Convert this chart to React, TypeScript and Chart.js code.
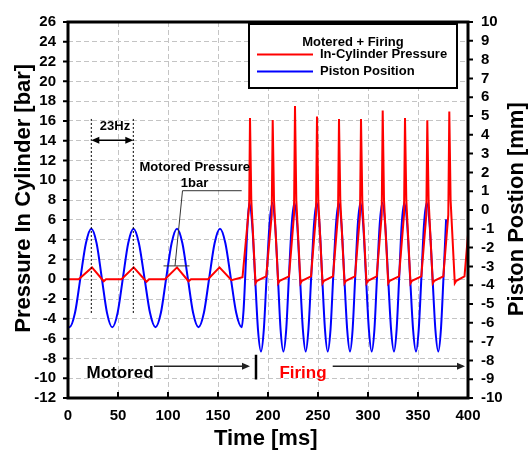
import React, { useEffect, useRef } from "react";
import { Chart, registerables } from "chart.js";

Chart.register(...registerables);

const FONT = '"Liberation Sans", Arial, Helvetica, sans-serif';

// In-cylinder pressure [bar] vs time [ms]
const pressureTime = [
  0, 10.7, 24, 35.7, 38, 53.5, 65.7, 78.5, 81, 97, 109, 120.5, 123, 140, 151.5, 163.5, 174.5,
  181.2, 182, 183.3, 187.5, 189,
  198.2, 203.7, 204.7, 206, 210.2, 211.7,
  221, 226, 227, 228.3, 232.5, 234,
  243, 248, 249, 250.3, 254.5, 256,
  265, 270, 271, 272.3, 276.5, 278,
  287, 292, 293, 294.3, 298.5, 300,
  308.7, 313.7, 314.7, 316, 320.2, 321.7,
  331, 336, 337, 338.3, 342.5, 344,
  353.3, 358.3, 359.3, 360.6, 364.8, 366.3,
  375.3, 380.3, 381.3, 382.6, 386.8, 388.3,
  396.5, 400,
];
const pressureBar = [
  0, 0, 1.2, -0.2, 0, 0, 1.2, -0.25, 0, 0, 1.2, -0.2, 0, 0, 1.2, -0.1, 0.2,
  7.5, 16.3, 8, -0.4, -0.15,
  0.3, 6.5, 16.1, 8, -0.4, -0.15,
  0.3, 6.5, 17.5, 8, -0.4, -0.15,
  0.3, 6.5, 16.45, 8, -0.4, -0.15,
  0.3, 6.5, 16.2, 8, -0.4, -0.15,
  0.3, 6.5, 16.2, 8, -0.4, -0.15,
  0.3, 6.5, 17.05, 8, -0.4, -0.15,
  0.3, 6.5, 16.3, 8, -0.4, -0.15,
  0.3, 6.5, 16.06, 8, -0.4, -0.15,
  0.3, 6.5, 16.95, 8, -0.4, -0.15,
  0.3, 4.5,
];

// Piston position [mm] vs time [ms]
const pistonTime = [
  0, 1.5, 7, 12.4, 17.9, 23.3, 28.6, 33.8, 39, 44.3, 49.6, 54.9, 60.2, 65.5, 70.9, 76.5, 82, 87.5,
  92.9, 98.2, 103.6, 109, 114.4, 119.8, 125.1, 130.5, 135.9, 141.2, 146.6, 152, 157.4, 162.8, 168.2, 173.7,
  175.6, 177.5, 179.4, 181.3,
  184.2, 187.1, 190.0, 193,
  195.8, 198.6, 201.5, 204.3,
  207.1, 209.9, 212.6, 215.4,
  218.2, 220.9, 223.7, 226.4,
  229.2, 232.0, 234.9, 237.7,
  240.4, 243.2, 246.0, 248.7,
  251.5, 254.2, 257.0, 259.7,
  262.5, 265.2, 268.0, 270.7,
  273.5, 276.3, 279.2, 282,
  284.6, 287.2, 289.8, 292.4,
  295.2, 298.0, 300.9, 303.7,
  306.4, 309.0, 311.7, 314.3,
  317.2, 320.1, 323.1, 326,
  328.6, 331.2, 333.7, 336.3,
  339.2, 342.1, 345.1, 348,
  350.7, 353.4, 356.0, 358.7,
  361.6, 364.5, 367.4, 370.3,
  372.9, 375.5, 378.1, 380.7,
  383.7, 386.7, 389.7, 392.7,
  395.2, 397.6, 400,
];
const pistonMm = [
  -6.2, -6.24, -5.47, -3.62, -1.77, -1.0, -1.77, -3.62, -5.47, -6.24, -5.47, -3.62, -1.77, -1.0, -1.77, -3.62, -5.47, -6.24,
  -5.47, -3.62, -1.77, -1.0, -1.77, -3.62, -5.47, -6.24, -5.47, -3.62, -1.77, -1.0, -1.77, -3.62, -5.47, -6.24,
  -5.3, -3.2, -0.9, 0.39,
  -0.77, -3.57, -6.37, -7.53,
  -6.37, -3.57, -0.77, 0.39,
  -0.77, -3.57, -6.37, -7.53,
  -6.37, -3.57, -0.77, 0.39,
  -0.77, -3.57, -6.37, -7.53,
  -6.37, -3.57, -0.77, 0.39,
  -0.77, -3.57, -6.37, -7.53,
  -6.37, -3.57, -0.77, 0.39,
  -0.77, -3.57, -6.37, -7.53,
  -6.37, -3.57, -0.77, 0.39,
  -0.77, -3.57, -6.37, -7.53,
  -6.37, -3.57, -0.77, 0.39,
  -0.77, -3.57, -6.37, -7.53,
  -6.37, -3.57, -0.77, 0.39,
  -0.77, -3.57, -6.37, -7.53,
  -6.37, -3.57, -0.77, 0.39,
  -0.77, -3.57, -6.37, -7.53,
  -6.37, -3.57, -0.5,
];

const legendTitle = "Motered + Firing";
const seriesNames = ["In-Cylinder Pressure", "Piston Position"];
const seriesColors = ["#ff0000", "#0000ff"];
const xTitle = "Time [ms]";
const yTitle = "Pressure In Cylinder [bar]";
const y1Title = "Piston Postion [mm]";

function arrowHead(ctx: CanvasRenderingContext2D, x: number, y: number, dir: number) {
  ctx.beginPath();
  ctx.moveTo(x, y);
  ctx.lineTo(x - dir * 8, y - 3.5);
  ctx.lineTo(x - dir * 8, y + 3.5);
  ctx.closePath();
  ctx.fill();
}

const overlay = {
  id: "overlay",
  afterDraw(chart: any) {
    const ctx: CanvasRenderingContext2D = chart.ctx;
    const { left, right, top, bottom } = chart.chartArea;
    const xs = chart.scales.x;
    const ys = chart.scales.y;
    const y1 = chart.scales.y1;
    const X = (v: number) => xs.getPixelForValue(v);
    const Y = (v: number) => ys.getPixelForValue(v);
    ctx.save();

    // tick marks
    ctx.strokeStyle = "#000";
    ctx.lineWidth = 2;
    ctx.setLineDash([]);
    ctx.beginPath();
    ys.ticks.forEach((t: any) => {
      const p = Y(t.value);
      ctx.moveTo(left - 5, p);
      ctx.lineTo(left, p);
    });
    y1.ticks.forEach((t: any) => {
      const p = y1.getPixelForValue(t.value);
      ctx.moveTo(right, p);
      ctx.lineTo(right + 5, p);
    });
    xs.ticks.forEach((t: any) => {
      const p = X(t.value);
      ctx.moveTo(p, bottom);
      ctx.lineTo(p, bottom - 6);
    });
    ctx.stroke();

    // frame
    ctx.lineWidth = 3;
    ctx.strokeRect(left, top, right - left, bottom - top);

    // axis titles
    ctx.fillStyle = "#000";
    ctx.font = `bold 22px ${FONT}`;
    ctx.textAlign = "center";
    ctx.textBaseline = "middle";
    ctx.fillText(xTitle, 265.7, 438.5);
    ctx.save();
    ctx.translate(24.2, 198.3);
    ctx.rotate(-Math.PI / 2);
    ctx.fillText(yTitle, 0, 0);
    ctx.restore();
    ctx.save();
    ctx.translate(516.8, 209.2);
    ctx.rotate(-Math.PI / 2);
    ctx.fillText(y1Title, 0, 0);
    ctx.restore();

    // 23Hz annotation
    ctx.strokeStyle = "#000";
    ctx.lineWidth = 1;
    ctx.setLineDash([2, 2]);
    ctx.beginPath();
    [23.3, 65.3].forEach((t) => {
      ctx.moveTo(X(t), Y(16.2));
      ctx.lineTo(X(t), Y(-3.5));
    });
    ctx.stroke();
    ctx.setLineDash([]);
    ctx.fillStyle = "#000";
    ctx.lineWidth = 1.5;
    ctx.beginPath();
    ctx.moveTo(X(23.3) + 4, Y(14.06));
    ctx.lineTo(X(65.3) - 4, Y(14.06));
    ctx.stroke();
    arrowHead(ctx, X(23.3), Y(14.06), -1);
    arrowHead(ctx, X(65.3), Y(14.06), 1);
    ctx.font = `bold 13px ${FONT}`;
    ctx.textAlign = "center";
    ctx.textBaseline = "middle";
    ctx.fillText("23Hz", X(47), Y(15.4));

    // Motored pressure annotation
    ctx.fillText("Motored Pressure", X(126.8), Y(11.26));
    ctx.fillText("1bar", X(126.5), Y(9.64));
    ctx.strokeStyle = "#333";
    ctx.lineWidth = 1;
    ctx.beginPath();
    ctx.moveTo(X(173.7), Y(8.95));
    ctx.lineTo(X(114.5), Y(8.95));
    ctx.lineTo(X(107), Y(1.35));
    ctx.moveTo(X(95.5), Y(1.35));
    ctx.lineTo(X(121.5), Y(1.35));
    ctx.stroke();

    // Motored / Firing bottom annotation
    ctx.font = `bold 17px ${FONT}`;
    ctx.fillStyle = "#000";
    ctx.fillText("Motored", X(52), Y(-9.46));
    ctx.fillStyle = "#ff0000";
    ctx.fillText("Firing", X(235), Y(-9.48));
    ctx.fillStyle = "#222";
    ctx.strokeStyle = "#222";
    ctx.lineWidth = 1.5;
    ctx.beginPath();
    ctx.moveTo(X(86), Y(-8.8));
    ctx.lineTo(X(180), Y(-8.8));
    ctx.moveTo(X(264.7), Y(-8.8));
    ctx.lineTo(X(395), Y(-8.8));
    ctx.stroke();
    arrowHead(ctx, X(182), Y(-8.8), 1);
    arrowHead(ctx, X(397), Y(-8.8), 1);
    ctx.strokeStyle = "#000";
    ctx.lineWidth = 2.5;
    ctx.beginPath();
    ctx.moveTo(X(188), Y(-7.63));
    ctx.lineTo(X(188), Y(-10.13));
    ctx.stroke();

    // legend box
    const bx = 249, by = 24, bw = 208, bh = 64;
    ctx.fillStyle = "#fff";
    ctx.fillRect(bx, by, bw, bh);
    ctx.strokeStyle = "#000";
    ctx.lineWidth = 2;
    ctx.strokeRect(bx, by, bw, bh);
    ctx.fillStyle = "#000";
    ctx.font = `bold 13px ${FONT}`;
    ctx.textAlign = "center";
    ctx.fillText(legendTitle, 353, 42);
    ctx.textAlign = "left";
    seriesNames.forEach((name, i) => {
      const yy = 54.5 + i * 17;
      ctx.strokeStyle = seriesColors[i];
      ctx.lineWidth = 2;
      ctx.beginPath();
      ctx.moveTo(257, yy);
      ctx.lineTo(313, yy);
      ctx.stroke();
      ctx.fillStyle = "#000";
      ctx.fillText(name, 320, yy);
    });

    ctx.restore();
  },
};

export default function App() {
  const ref = useRef<HTMLCanvasElement>(null);
  useEffect(() => {
    const tickFont = { family: FONT, size: 15, weight: "bold" as const };
    const gridColor = "#c4c4c4";
    const chart = new Chart(ref.current!, {
      type: "line",
      data: {
        datasets: [
          {
            label: seriesNames[0],
            data: pressureTime.map((t, i) => ({ x: t, y: pressureBar[i] })),
            borderColor: seriesColors[0],
            borderWidth: 2,
            pointRadius: 0,
            tension: 0,
            yAxisID: "y",
          },
          {
            label: seriesNames[1],
            data: pistonTime.map((t, i) => ({ x: t, y: pistonMm[i] })),
            borderColor: seriesColors[1],
            borderWidth: 2,
            pointRadius: 0,
            cubicInterpolationMode: "monotone",
            yAxisID: "y1",
          },
        ],
      },
      options: {
        animation: false,
        responsive: false,
        maintainAspectRatio: false,
        devicePixelRatio: 1,
        layout: { padding: { top: 13, left: 0, right: 0, bottom: 0 } },
        plugins: { legend: { display: false }, tooltip: { enabled: false } },
        scales: {
          x: {
            type: "linear",
            min: 0,
            max: 400,
            ticks: { stepSize: 50, font: tickFont, color: "#000", padding: 9, autoSkip: false, maxRotation: 0 },
            grid: { color: gridColor, lineWidth: 1, drawTicks: false },
            border: { display: false, dash: [5, 3] },
            title: { display: false },
            afterFit: (s: any) => { s.height = 57; },
          },
          y: {
            position: "left",
            min: -12,
            max: 26,
            ticks: { stepSize: 2, font: tickFont, color: "#000", padding: 12, autoSkip: false },
            grid: { color: gridColor, lineWidth: 1, drawTicks: false },
            border: { display: false, dash: [5, 3] },
            title: { display: false },
            afterFit: (s: any) => { s.width = 68; },
          },
          y1: {
            position: "right",
            min: -10,
            max: 10,
            ticks: { stepSize: 1, font: tickFont, color: "#000", padding: 13, autoSkip: false },
            grid: { drawOnChartArea: false, drawTicks: false },
            border: { display: false },
            title: { display: false },
            afterFit: (s: any) => { s.width = 60; },
          },
        },
      },
      plugins: [overlay],
    } as any);
    return () => chart.destroy();
  }, []);
  return (
    <div style={{ position: "absolute", left: 0, top: 0, width: 528, height: 455, background: "#fff" }}>
      <canvas ref={ref} width={528} height={455} style={{ display: "block", width: 528, height: 455 }} />
    </div>
  );
}
